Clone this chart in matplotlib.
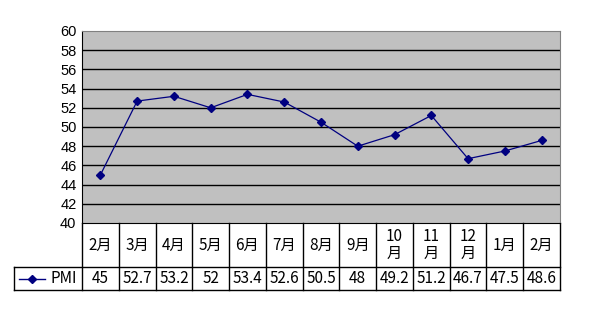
import matplotlib
matplotlib.use("Agg")
import matplotlib.pyplot as plt
from matplotlib.lines import Line2D

categories = ["2月", "3月", "4月", "5月", "6月", "7月", "8月", "9月", "10\n月", "11\n月", "12\n月", "1月", "2月"]
values = [45, 52.7, 53.2, 52, 53.4, 52.6, 50.5, 48, 49.2, 51.2, 46.7, 47.5, 48.6]
value_labels = ["45", "52.7", "53.2", "52", "53.4", "52.6", "50.5", "48", "49.2", "51.2", "46.7", "47.5", "48.6"]
yticks = [40, 42, 44, 46, 48, 50, 52, 54, 56, 58, 60]
series_name = "PMI"

W, H = 595, 322
fig = plt.figure(figsize=(W / 100, H / 100), dpi=100)
fig.patch.set_facecolor("white")
x0, x1, ytop, ybot = 82, 560, 31, 223
ax = fig.add_axes([x0 / W, 1 - ybot / H, (x1 - x0) / W, (ybot - ytop) / H])
ax.set_facecolor("#C0C0C0")
n = len(values)
xs = [i + 0.5 for i in range(n)]
ax.set_xlim(0, n)
ax.set_ylim(40, 60)
for y in yticks[1:-1]:
    ax.axhline(y, color="black", lw=1.0, zorder=1)
ax.plot(xs, values, color="#000080", lw=0.9, marker="D", markersize=4, zorder=3)
ax.set_yticks(yticks)
ax.set_yticklabels([str(v) for v in yticks], fontfamily="Liberation Sans", fontsize=10.5)
ax.tick_params(axis="y", length=0, pad=4)
ax.set_xticks([])
for s in ["top", "right"]:
    ax.spines[s].set_color("#808080")
ax.spines["left"].set_color("black")
ax.spines["bottom"].set_color("black")

# table
ax_w = x1 - x0
ax_h = ybot - ytop
def ay(py):
    return (ybot - py) / ax_h
def axx(px):
    return (px - x0) / ax_w

row1_bot = 267
row2_bot = 290
legend_left = 14
tf = ax.transAxes
kw = dict(transform=tf, clip_on=False, color="black", lw=1.0)
ax.add_line(Line2D([axx(legend_left), 1], [ay(row1_bot)] * 2, **kw))
ax.add_line(Line2D([axx(legend_left), 1], [ay(row2_bot)] * 2, **kw))
for i in range(n + 1):
    ax.add_line(Line2D([i / n] * 2, [0, ay(row2_bot)], **kw))
ax.add_line(Line2D([axx(legend_left)] * 2, [ay(row1_bot), ay(row2_bot)], **kw))

fam = ["Noto Sans CJK SC", "DejaVu Sans"]
for i, (c, v) in enumerate(zip(categories, value_labels)):
    ax.text((i + 0.5) / n, (ay(ybot) + ay(row1_bot)) / 2, c, transform=tf, ha="center", va="center",
            fontsize=11, family=fam, linespacing=1.05)
    ax.text((i + 0.5) / n, (ay(row1_bot) + ay(row2_bot)) / 2, v, transform=tf, ha="center", va="center",
            fontsize=11, family=fam)

ym = (ay(row1_bot) + ay(row2_bot)) / 2
ax.add_line(Line2D([axx(19), axx(45)], [ym, ym], transform=tf, clip_on=False, color="#000080", lw=1.0))
ax.add_line(Line2D([axx(32)], [ym], transform=tf, clip_on=False, color="#000080", marker="D", markersize=4))
ax.text(axx(50), ym, series_name, transform=tf, ha="left", va="center", fontsize=11, family=fam)

fig.savefig("out.png", dpi=100)
